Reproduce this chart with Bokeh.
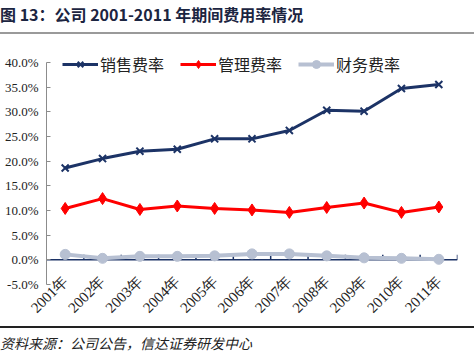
from math import pi
from bokeh.plotting import figure
from bokeh.models import (ColumnDataSource, Range1d, FixedTicker, PrintfTickFormatter,
                          Span, Legend, LegendItem, Div)
from bokeh.layouts import column
from bokeh.embed import file_html
from bokeh.resources import INLINE

# ---- data ----
years = ["2001年", "2002年", "2003年", "2004年", "2005年", "2006年",
         "2007年", "2008年", "2009年", "2010年", "2011年"]
sales_rate = [18.6, 20.5, 22.0, 22.4, 24.5, 24.5, 26.2, 30.3, 30.1, 34.7, 35.5]
admin_rate = [10.4, 12.4, 10.2, 10.9, 10.4, 10.1, 9.6, 10.6, 11.5, 9.6, 10.7]
finance_rate = [1.1, 0.3, 0.7, 0.7, 0.8, 1.2, 1.2, 0.8, 0.4, 0.3, 0.1]
y_ticks = [-5, 0, 5, 10, 15, 20, 25, 30, 35, 40]
series_names = ["销售费率", "管理费率", "财务费率"]
title_text = "图 13：公司 2001-2011 年期间费用率情况"
source_text = "资料来源：公司公告，信达证券研发中心"

NAVY = "#1c3366"
RED = "#ff0000"
GRAY = "#b7c0d2"

idx = list(range(len(years)))
src = ColumnDataSource(dict(x=idx, sales=sales_rate, admin=admin_rate, finance=finance_rate))

W = 474
p = figure(width=W, height=287,
           x_range=Range1d(-0.5, len(years) - 0.5), y_range=Range1d(y_ticks[0], 43),
           output_backend="svg", toolbar_location=None,
           min_border_left=46, min_border_right=17, min_border_top=8, min_border_bottom=42)
p.grid.visible = False
p.outline_line_color = None
p.background_fill_color = "white"

yax = p.yaxis[0]
yax.ticker = FixedTicker(ticks=y_ticks)
yax.bounds = (y_ticks[0], y_ticks[-1])
yax.formatter = PrintfTickFormatter(format="%.1f%%")
yax.major_label_text_font = "Liberation Serif"
yax.major_label_text_font_size = "13px"
yax.major_label_text_color = "#222222"
yax.axis_line_color = "#8c8c8c"
yax.major_tick_line_color = "#8c8c8c"
yax.major_tick_in = 4
yax.major_tick_out = 0
yax.minor_tick_line_color = None
yax.major_label_standoff = 8

# category axis: labels sit just under the zero line
xax = p.xaxis[0]
xax.ticker = FixedTicker(ticks=idx)
xax.major_label_overrides = {i: y for i, y in zip(idx, years)}
xax.major_label_orientation = pi / 4
xax.major_label_standoff = -6
xax.axis_line_color = None
xax.major_tick_line_color = None
xax.minor_tick_line_color = None
xax.major_tick_in = 0
xax.major_tick_out = 0
xax.major_label_text_font = "Liberation Serif"
xax.major_label_text_font_size = "15px"
xax.major_label_text_color = "#222222"

# zero line (category axis crossing at 0) with its small ticks between categories
zero = Span(location=0, dimension="width", line_color=NAVY, line_width=1.5, level="underlay")
p.add_layout(zero)
bounds = [i + 0.5 for i in idx]
p.ray(x=bounds, y=[0] * len(bounds), length=5, length_units="screen", angle=pi / 2,
      line_color=NAVY, line_width=1.5)

r3 = p.line("x", "finance", source=src, line_color=GRAY, line_width=4)
s3 = p.scatter("x", "finance", source=src, marker="circle", size=10,
               fill_color=GRAY, line_color=GRAY)
r2 = p.line("x", "admin", source=src, line_color=RED, line_width=3)
s2 = p.scatter("x", "admin", source=src, marker="diamond", size=12,
               fill_color=RED, line_color=RED)
r1 = p.line("x", "sales", source=src, line_color=NAVY, line_width=3)
s1 = p.scatter("x", "sales", source=src, marker="x", size=10,
               line_color=NAVY, line_width=2)

legend = Legend(items=[LegendItem(label=series_names[0], renderers=[r1, s1]),
                       LegendItem(label=series_names[1], renderers=[r2, s2]),
                       LegendItem(label=series_names[2], renderers=[r3, s3])],
                orientation="horizontal", location=(16, 208),
                glyph_width=36, glyph_height=20, label_standoff=2, spacing=16,
                padding=0, margin=0, border_line_color=None, background_fill_alpha=0,
                label_text_font="Noto Sans CJK SC", label_text_font_size="16px",
                label_text_color="#222222")
p.add_layout(legend)

title_div = Div(text=('<div style="width:474px;height:34px;padding-top:3px;border-bottom:2px solid #9a9a9a;'
                      'font-family:\'Noto Sans CJK SC\',sans-serif;font-weight:700;font-size:16px;'
                      'line-height:22px;color:#1c2541;white-space:nowrap;">' + title_text + '</div>'),
                width=W, height=39, margin=0)
source_div = Div(text=('<div style="width:474px;border-top:2px solid #222222;padding-top:4px;'
                       'font-family:\'Noto Sans CJK SC\',sans-serif;font-style:italic;font-size:14px;'
                       'line-height:22px;color:#222222;white-space:nowrap;">' + source_text + '</div>'),
                 width=W, height=32, margin=0)

layout = column(title_div, p, source_div, spacing=0)
open("out.html", "w").write(file_html(layout, INLINE))
